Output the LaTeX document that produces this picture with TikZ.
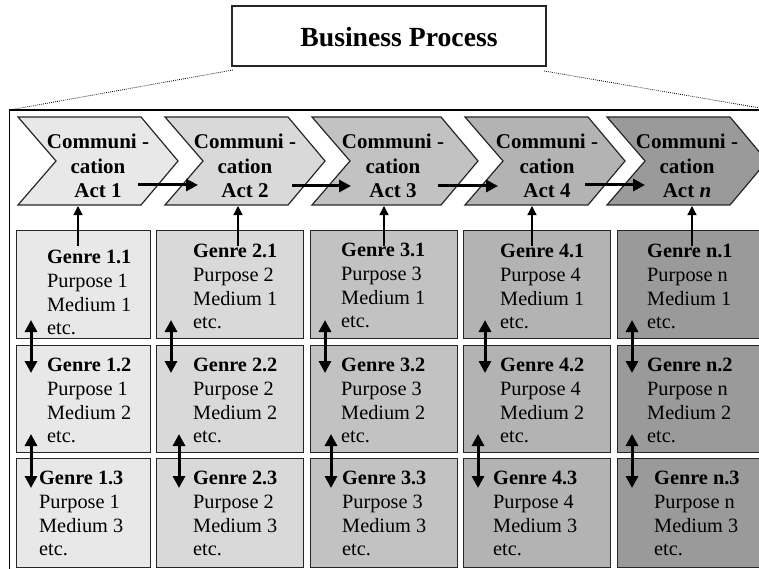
\documentclass[tikz,border=0pt]{standalone}
\usepackage{fontspec}
\setmainfont{Liberation Serif}
\usetikzlibrary{arrows.meta}

\definecolor{shadeA}{HTML}{E8E8E8}
\definecolor{shadeB}{HTML}{D9D9D9}
\definecolor{shadeC}{HTML}{C2C2C2}
\definecolor{shadeD}{HTML}{B3B3B3}
\definecolor{shadeE}{HTML}{9A9A9A}

\begin{document}
\begin{tikzpicture}[x=1pt,y=-1pt,
  chev/.style={draw=black!85, line width=1.2pt},
  gbox/.style={draw=black!85, line width=1.4pt, rectangle, anchor=north west, inner sep=0pt},
  acttext/.style={font=\bfseries\fontsize{21}{24.5}\selectfont, align=center, anchor=north, inner sep=0pt},
  gtext/.style={font=\fontsize{20.3}{23.7}\selectfont, align=left, anchor=north west, inner sep=0pt},
  flow/.style={line width=3pt, -{Triangle[length=12pt,width=12pt]}},
  link/.style={line width=3pt, {Triangle[length=12pt,width=12pt]}-{Triangle[length=12pt,width=12pt]}},
  feed/.style={line width=1.3pt, -{Triangle[length=9pt,width=9pt]}},
  zoomline/.style={line width=0.8pt, dash pattern=on 0.8pt off 1.2pt},
]
\useasboundingbox (0,0) rectangle (759,569);

% title box
\node[draw=black!85, line width=1.4pt, minimum width=314pt, minimum height=60pt, inner sep=0pt] (tb) at (389,36) {};
\node[font=\bfseries\fontsize{27.7}{32}\selectfont, anchor=base, inner sep=0pt] (tt) at (399,47) {Business Process};

% enclosing frame
\coordinate (frTL) at (9.5,110);
\coordinate (frTR) at (760,110);
\coordinate (frBL) at (9.5,570);
\draw[line width=1.8pt] (frBL) -- (frTL) -- (frTR);

% zoom lines from the title box to the frame
\coordinate (zl) at (233,70);
\coordinate (zr) at (544,71);
\coordinate (zre) at (760,108);
\draw[zoomline] (zl) -- (frTL);
\draw[zoomline] (zr) -- (zre);

% chevrons: left x, width, colour
\foreach \L/\W/\c in {18/160/shadeA, 165/160/shadeB, 312/166/shadeC, 465/160/shadeD, 607/160/shadeE}{
  \filldraw[chev, fill=\c] (\L,117) -- ({\L+\W-37},117) -- ({\L+\W},161) -- ({\L+\W-37},205)
     -- (\L,205) -- ({\L+38},161) -- cycle;
}

\node[acttext] (a1) at (98,134) {Communi -\\cation\\Act 1};
\node[acttext] (a2) at (245,134) {Communi -\\cation\\Act 2};
\node[acttext] (a3) at (393,134) {Communi -\\cation\\Act 3};
\node[acttext] (a4) at (547,134) {Communi -\\cation\\Act 4};
\node[acttext] (a5) at (687,134) {Communi -\\cation\\Act \textit{n}};

% genre boxes
\node[gbox, fill=shadeA, minimum width=134pt, minimum height=108pt] (b11) at (16,230) {};
\node[gbox, fill=shadeB, minimum width=147pt, minimum height=108pt] (b21) at (156,230) {};
\node[gbox, fill=shadeC, minimum width=147pt, minimum height=108pt] (b31) at (310,230) {};
\node[gbox, fill=shadeD, minimum width=147pt, minimum height=108pt] (b41) at (463,230) {};
\node[gbox, fill=shadeE, minimum width=148pt, minimum height=108pt] (b51) at (617,230) {};

\node[gbox, fill=shadeA, minimum width=134pt, minimum height=107pt] (b12) at (16,345) {};
\node[gbox, fill=shadeB, minimum width=147pt, minimum height=107pt] (b22) at (156,345) {};
\node[gbox, fill=shadeC, minimum width=147pt, minimum height=107pt] (b32) at (310,345) {};
\node[gbox, fill=shadeD, minimum width=147pt, minimum height=107pt] (b42) at (463,345) {};
\node[gbox, fill=shadeE, minimum width=148pt, minimum height=107pt] (b52) at (617,345) {};

\node[gbox, fill=shadeA, minimum width=134pt, minimum height=109pt] (b13) at (16,458) {};
\node[gbox, fill=shadeB, minimum width=147pt, minimum height=109pt] (b23) at (156,458) {};
\node[gbox, fill=shadeC, minimum width=147pt, minimum height=109pt] (b33) at (310,458) {};
\node[gbox, fill=shadeD, minimum width=147pt, minimum height=109pt] (b43) at (463,458) {};
\node[gbox, fill=shadeE, minimum width=148pt, minimum height=109pt] (b53) at (617,458) {};

% genre texts
\node[gtext] (t11) at (47,250)  {\textbf{Genre 1.1}\\Purpose 1\\Medium 1\\etc.};
\node[gtext] (t21) at (193,244) {\textbf{Genre 2.1}\\Purpose 2\\Medium 1\\etc.};
\node[gtext] (t31) at (341,243) {\textbf{Genre 3.1}\\Purpose 3\\Medium 1\\etc.};
\node[gtext] (t41) at (500,244) {\textbf{Genre 4.1}\\Purpose 4\\Medium 1\\etc.};
\node[gtext] (t51) at (647,244) {\textbf{Genre n.1}\\Purpose n\\Medium 1\\etc.};

\node[gtext] (t12) at (47,358)  {\textbf{Genre 1.2}\\Purpose 1\\Medium 2\\etc.};
\node[gtext] (t22) at (193,358) {\textbf{Genre 2.2}\\Purpose 2\\Medium 2\\etc.};
\node[gtext] (t32) at (341,358) {\textbf{Genre 3.2}\\Purpose 3\\Medium 2\\etc.};
\node[gtext] (t42) at (500,358) {\textbf{Genre 4.2}\\Purpose 4\\Medium 2\\etc.};
\node[gtext] (t52) at (647,358) {\textbf{Genre n.2}\\Purpose n\\Medium 2\\etc.};

\node[gtext] (t13) at (39,471)  {\textbf{Genre 1.3}\\Purpose 1\\Medium 3\\etc.};
\node[gtext] (t23) at (193,471) {\textbf{Genre 2.3}\\Purpose 2\\Medium 3\\etc.};
\node[gtext] (t33) at (342,471) {\textbf{Genre 3.3}\\Purpose 3\\Medium 3\\etc.};
\node[gtext] (t43) at (493,471) {\textbf{Genre 4.3}\\Purpose 4\\Medium 3\\etc.};
\node[gtext] (t53) at (654,471) {\textbf{Genre n.3}\\Purpose n\\Medium 3\\etc.};

% flow between communication acts
\coordinate (o1) at (138,185); \coordinate (i2) at (198,185);
\coordinate (o2) at (292,186); \coordinate (i3) at (351,186);
\coordinate (o3) at (438,186); \coordinate (i4) at (498,186);
\coordinate (o4) at (585,185); \coordinate (i5) at (645,185);
\draw[flow] (o1) -- (i2);
\draw[flow] (o2) -- (i3);
\draw[flow] (o3) -- (i4);
\draw[flow] (o4) -- (i5);

% genres realising each act
\foreach \n/\x in {1/78, 2/238, 3/384, 4/532, 5/692}{
  \coordinate (fs\n) at (\x,246);
  \coordinate (fe\n) at (\x,206);
  \draw[feed] (fs\n) -- (fe\n);
}

% links between genres of the same act
\foreach \n/\x in {1/31, 2/171, 3/325, 4/485, 5/632}{
  \coordinate (ua\n) at (\x,320);
  \coordinate (ub\n) at (\x,373);
  \draw[link] (ua\n) -- (ub\n);
}
\foreach \n/\x in {1/31, 2/179, 3/331, 4/478, 5/632}{
  \coordinate (la\n) at (\x,434);
  \coordinate (lb\n) at (\x,488);
  \draw[link] (la\n) -- (lb\n);
}
\end{tikzpicture}
\end{document}
